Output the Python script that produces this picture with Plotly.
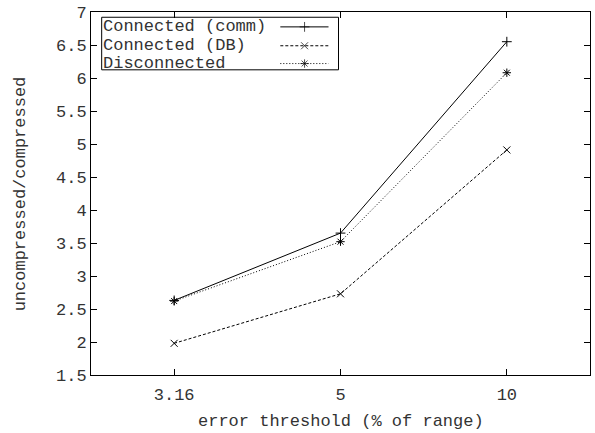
import plotly.graph_objects as go

# Error thresholds (% of range) and compression ratios per configuration
thresholds = ["3.16", "5", "10"]
connected_comm = [2.63, 3.65, 6.55]
connected_db = [1.98, 2.73, 4.91]
disconnected = [2.62, 3.52, 6.08]

series_names = ["Connected (comm)", "Connected (DB)", "Disconnected"]
series_values = [connected_comm, connected_db, disconnected]
series_dash = ["solid", "3px,2px", "1px,2px"]
series_symbol = ["cross-thin-open", "x-thin-open", "asterisk-open"]

FONT = dict(family="Liberation Mono, Courier New, monospace", size=17, color="#333")

fig = go.Figure()
for name, vals, dash, sym in zip(series_names, series_values, series_dash, series_symbol):
    fig.add_trace(go.Scatter(
        x=thresholds, y=vals, name=name, mode="lines+markers",
        line=dict(color="black", width=1, dash=dash),
        marker=dict(symbol=sym, size=7, color="black", line=dict(color="black", width=1)),
        showlegend=False,
    ))

# Legend drawn inside the plot area: text on the left, line sample on the right
row_y = [0.959, 0.907, 0.858]
sx0, sxm, sx1 = 0.3794, 0.428, 0.476
for name, dash, sym, ry in zip(series_names, series_dash, series_symbol, row_y):
    fig.add_annotation(x=0.021, y=ry, xref="paper", yref="paper", text=name,
                       showarrow=False, xanchor="left", yanchor="middle", font=FONT)
    fig.add_trace(go.Scatter(
        x=[sx0, sxm, sx1], y=[ry, ry, ry], xaxis="x2", yaxis="y2", mode="lines+markers",
        line=dict(color="black", width=1, dash=dash),
        marker=dict(symbol=sym, size=[0, 7, 0], color="black", line=dict(color="black", width=1)),
        showlegend=False, hoverinfo="skip",
    ))
fig.add_shape(type="rect", xref="paper", yref="paper", x0=0.0214, x1=0.496, y0=0.8407, y1=0.9855,
              line=dict(color="black", width=1))

fig.add_annotation(x=0.5, y=-0.127, xref="paper", yref="paper", text="error threshold (% of range)",
                   showarrow=False, xanchor="center", yanchor="middle", font=FONT)
fig.add_annotation(x=-0.1406, y=0.5, xref="paper", yref="paper", text="uncompressed/compressed",
                   showarrow=False, xanchor="center", yanchor="middle", textangle=-90, font=FONT)

axis_common = dict(showline=True, linecolor="black", linewidth=1, mirror="ticks",
                   ticks="inside", ticklen=6, tickcolor="black", tickwidth=1,
                   showgrid=False, zeroline=False, tickfont=FONT)

fig.update_layout(
    width=595, height=433,
    margin=dict(l=91, r=4, t=9, b=58),
    paper_bgcolor="white", plot_bgcolor="white",
    xaxis=dict(type="category", range=[-0.5, 2.5], ticklabelstandoff=4, **axis_common),
    yaxis=dict(range=[1.5, 7], dtick=0.5, **axis_common),
    xaxis2=dict(range=[0, 1], overlaying="x", visible=False),
    yaxis2=dict(range=[0, 1], overlaying="y", visible=False),
    font=FONT,
)

fig.write_html("out.html")
